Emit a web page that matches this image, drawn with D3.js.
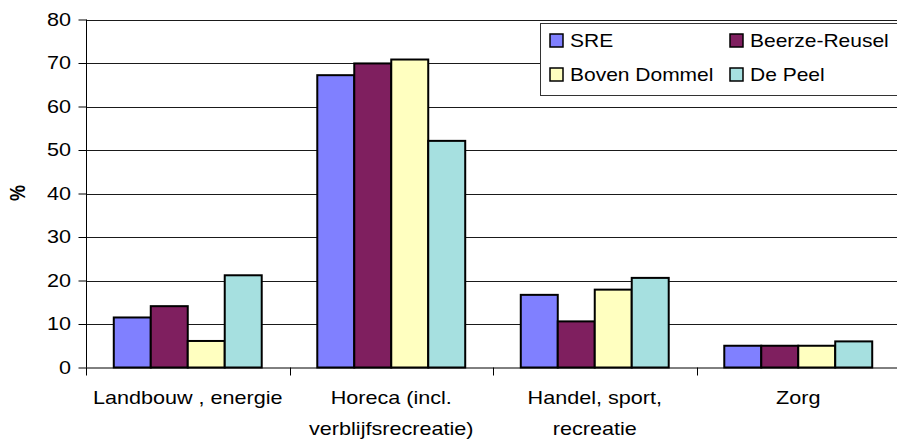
<!DOCTYPE html>
<html>
<head>
<meta charset="utf-8">
<script src="https://cdn.jsdelivr.net/npm/d3@7"></script>
<style>
  body { margin: 0; background: #fff; }
  text { font-family: "Liberation Sans", Arial, sans-serif; fill: #000; }
</style>
</head>
<body>
<svg id="chart" width="897" height="441"></svg>
<script>
// data
var categories = [["Landbouw , energie"], ["Horeca (incl.", "verblijfsrecreatie)"], ["Handel, sport,", "recreatie"], ["Zorg"]];
var seriesNames = ["SRE", "Beerze-Reusel", "Boven Dommel", "De Peel"];
var sreValues = [11.5, 67.2, 16.7, 5.0];
var beerzeValues = [14.1, 69.9, 10.6, 5.0];
var bovenValues = [6.1, 70.8, 17.9, 5.0];
var peelValues = [21.2, 52.1, 20.6, 6.0];
var yTicks = [0, 10, 20, 30, 40, 50, 60, 70, 80];
var colors = ["#8080ff", "#7f1f5f", "#ffffc0", "#a6e0e0"];

var allValues = [sreValues, beerzeValues, bovenValues, peelValues];

var svg = d3.select("#chart"),
    left = 86, right = 900, plotTop = 19.5, plotBottom = 367.5,
    stretch = "scale(1.2,1)";

var catKeys = categories.map(function(c, i) { return i; });

var x0 = d3.scaleBand().domain(catKeys).range([left, right]).padding(0);
var gap = x0.bandwidth() * 0.1365;
var x1 = d3.scaleBand().domain(seriesNames).range([gap, x0.bandwidth() - gap]).padding(0);
var y = d3.scaleLinear().domain([0, 80]).range([plotBottom, plotTop]);

// gridlines
svg.append("g").selectAll("line")
    .data(yTicks.filter(function(t) { return t > 0; }))
    .join("line")
    .attr("x1", left).attr("x2", right)
    .attr("y1", function(d) { return Math.round(y(d)) + 0.5; })
    .attr("y2", function(d) { return Math.round(y(d)) + 0.5; })
    .attr("stroke", "#1a1a1a").attr("stroke-width", 1);

// bars
var groups = svg.append("g").selectAll("g")
    .data(catKeys)
    .join("g")
    .attr("transform", function(d) { return "translate(" + x0(d) + ",0)"; });

groups.selectAll("rect")
    .data(function(ci) {
        return seriesNames.map(function(s, si) { return {s: s, si: si, v: allValues[si][ci]}; });
    })
    .join("rect")
    .attr("x", function(d) { return x1(d.s); })
    .attr("width", x1.bandwidth())
    .attr("y", function(d) { return y(d.v); })
    .attr("height", function(d) { return y(0) - y(d.v); })
    .attr("fill", function(d) { return colors[d.si]; })
    .attr("stroke", "#000").attr("stroke-width", 2);

// y axis
var yAxis = d3.axisLeft(y).tickValues(yTicks).tickSize(8).tickFormat("");
var gy = svg.append("g").attr("transform", "translate(" + (left + 0.5) + ",0)").call(yAxis);
gy.select(".domain").attr("stroke", "#000").attr("d", "M0," + plotTop + "V" + plotBottom);
gy.selectAll(".tick line").attr("stroke", "#000");

svg.append("g").selectAll("text")
    .data(yTicks)
    .join("text")
    .attr("transform", function(d) { return "translate(71," + (y(d) + 6) + ") " + stretch; })
    .attr("text-anchor", "end")
    .attr("font-size", 18)
    .text(function(d) { return d; });

// x axis
svg.append("line").attr("x1", left).attr("x2", right)
    .attr("y1", plotBottom + 0.5).attr("y2", plotBottom + 0.5).attr("stroke", "#000");
svg.append("g").selectAll("line")
    .data(catKeys.concat([categories.length]))
    .join("line")
    .attr("x1", function(d) { return Math.round(left + d * x0.step()) + 0.5; })
    .attr("x2", function(d) { return Math.round(left + d * x0.step()) + 0.5; })
    .attr("y1", plotBottom).attr("y2", plotBottom + 8)
    .attr("stroke", "#000");

var labels = svg.append("g").selectAll("text")
    .data(catKeys)
    .join("text")
    .attr("text-anchor", "middle")
    .attr("font-size", 18)
    .attr("transform", function(d) { return "translate(" + (x0(d) + x0.bandwidth() / 2) + ",404) " + stretch; });
labels.selectAll("tspan")
    .data(function(d) { return categories[d]; })
    .join("tspan")
    .attr("x", 0)
    .attr("dy", function(d, i) { return i === 0 ? 0 : 31; })
    .text(function(d) { return d; });

// y title
svg.append("text")
    .attr("transform", "translate(25,193) rotate(-90) scale(1,1.2)")
    .attr("text-anchor", "middle")
    .attr("font-size", 18)
    .attr("font-weight", "bold")
    .text("%");

// legend
var legend = svg.append("g");
legend.append("rect")
    .attr("x", 540.5).attr("y", 23.5).attr("width", 380).attr("height", 72)
    .attr("fill", "#fff").attr("stroke", "#333");
var items = legend.selectAll("g.item")
    .data(seriesNames)
    .join("g")
    .attr("class", "item")
    .attr("transform", function(d, i) { return "translate(" + (i % 2 === 0 ? 550 : 730) + "," + (i < 2 ? 34 : 68) + ")"; });
items.append("rect")
    .attr("width", 13).attr("height", 13)
    .attr("fill", function(d, i) { return colors[i]; })
    .attr("stroke", "#000").attr("stroke-width", 1.5);
items.append("text")
    .attr("transform", "translate(20,13) " + stretch)
    .attr("font-size", 17.5)
    .text(function(d) { return d; });
</script>
</body>
</html>
